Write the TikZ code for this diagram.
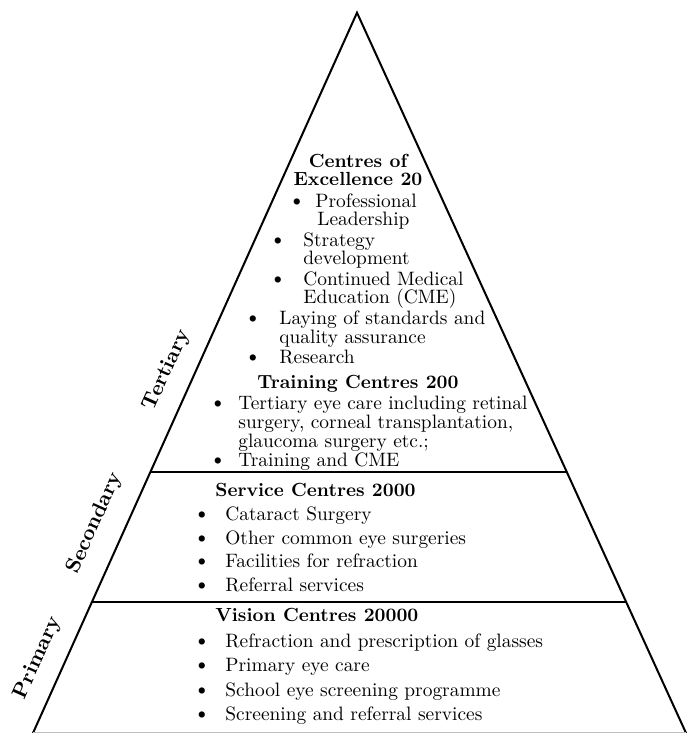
\documentclass[tikz,border=0pt]{standalone}
\usepackage{tikz}
\usetikzlibrary{positioning,calc}

\begin{document}
\begin{tikzpicture}[x=0.5pt, y=-0.5pt,
  edge/.style={draw=black, line width=1pt},
  head/.style={font=\fontsize{9.5}{9.5}\selectfont\bfseries, inner sep=0pt, anchor=base},
  tier/.style={font=\fontsize{10.5}{10.5}\selectfont\bfseries, inner sep=0pt, rotate=65.8},
  dot/.style={font=\fontsize{11.5}{11.5}\selectfont, inner sep=0pt, anchor=base},
  txt/.style={font=\fontsize{9.7}{9.5}\selectfont, inner sep=0pt, anchor=base west}]

  \useasboundingbox (0,0) rectangle (691,733);

  % Pyramid
  \coordinate (apex) at (357,12.7);
  \coordinate (bl)   at (33,733);
  \coordinate (br)   at (686,733);
  \coordinate (tl) at ($(bl)!0.3623!(apex)$);
  \coordinate (tr) at ($(br)!0.3623!(apex)$);
  \coordinate (sl) at ($(bl)!0.1823!(apex)$);
  \coordinate (sr) at ($(br)!0.1823!(apex)$);
  \draw[edge] (bl) -- (apex) -- (br);
  \draw[edge] (tl) -- (tr);
  \draw[edge] (sl) -- (sr);
  \draw[gray!50, line width=0.8pt] (bl) -- (br);

  % Levels
  \node[tier] (tert) at (167,370) {Tertiary};
  \node[tier] (seco) at (95,523)  {Secondary};
  \node[tier] (prim) at (38,658)  {Primary};

  % Centres of Excellence
  \node[head] (coe1) at (358,167) {Centres of};
  \node[head] (coe2) at (358,185) {Excellence 20};
  \node[dot] (d1) at (297,207) {\textbullet};
  \node[txt] (prof)  at (315,207) {Professional};
  \node[txt] (lead)  at (317,225) {Leadership};
  \node[dot] (d2) at (278,246) {\textbullet};
  \node[txt] (strat) at (303,246) {Strategy};
  \node[txt] (devel) at (303,264) {development};
  \node[dot] (d3) at (278,285) {\textbullet};
  \node[txt] (cme1)  at (303,285) {Continued Medical};
  \node[txt] (cme2)  at (303,303) {Education (CME)};
  \node[dot] (d4) at (253,324) {\textbullet};
  \node[txt] (lay1)  at (279,324) {Laying of standards and};
  \node[txt] (lay2)  at (279,343) {quality assurance};
  \node[dot] (d5) at (253,363) {\textbullet};
  \node[txt] (resr)  at (279,363) {Research};

  % Training Centres
  \node[head] (trc) at (358,388) {Training Centres 200};
  \node[dot] (d6) at (218,409) {\textbullet};
  \node[txt] (ter1) at (238,409) {Tertiary eye care including retinal};
  \node[txt] (ter2) at (238,428) {surgery, corneal transplantation,};
  \node[txt] (ter3) at (238,447) {glaucoma surgery etc.;};
  \node[dot] (d7) at (218,466) {\textbullet};
  \node[txt] (tcme) at (238,466) {Training and CME};

  % Service Centres
  \node[head, anchor=base west] (svc) at (215,496) {Service Centres 2000};
  \node[dot] (d8)  at (202,520.7) {\textbullet};
  \node[txt] (cat) at (225,520.7) {Cataract Surgery};
  \node[dot] (d9)  at (202,544) {\textbullet};
  \node[txt] (oth) at (225,544) {Other common eye surgeries};
  \node[dot] (d10) at (202,567.7) {\textbullet};
  \node[txt] (fac) at (225,567.7) {Facilities for refraction};
  \node[dot] (d11) at (202,591) {\textbullet};
  \node[txt] (ref) at (225,591) {Referral services};

  % Vision Centres
  \node[head, anchor=base west] (vis) at (215,621.7) {Vision Centres 20000};
  \node[dot] (d12) at (202,647) {\textbullet};
  \node[txt] (rpg) at (225,647) {Refraction and prescription of glasses};
  \node[dot] (d13) at (202,671.5) {\textbullet};
  \node[txt] (pec) at (225,671.5) {Primary eye care};
  \node[dot] (d14) at (202,696) {\textbullet};
  \node[txt] (sch) at (225,696) {School eye screening programme};
  \node[dot] (d15) at (202,720.5) {\textbullet};
  \node[txt] (scr) at (225,720.5) {Screening and referral services};
\end{tikzpicture}
\end{document}
